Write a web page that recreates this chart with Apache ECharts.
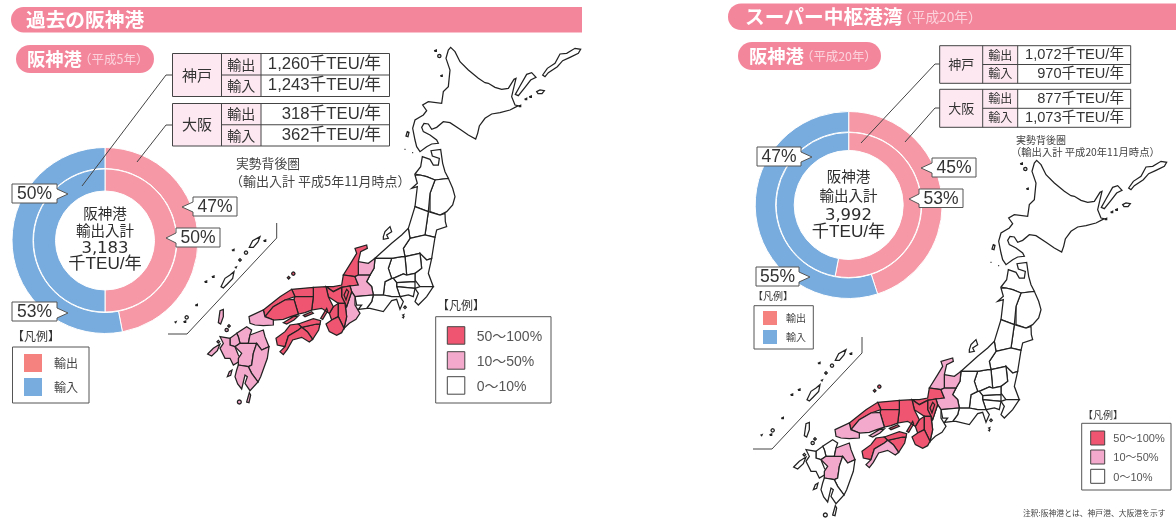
<!DOCTYPE html>
<html>
<head>
<meta charset="utf-8">
<style>
  html, body { margin: 0; padding: 0; background: #fff; }
  #main { width: 1176px; height: 522px; }
</style>
<script src="https://cdn.jsdelivr.net/npm/echarts@6/dist/echarts.min.js"></script>
</head>
<body>
<div id="main"></div>
<script>
// 輸出入シェア (%)
const flowNames = ['輸出', '輸入'];
const outerShareH5 = [47, 53];
const innerShareH5 = [50, 50];
const outerShareH20 = [45, 55];
const innerShareH20 = [53, 47];

// 取扱量 (千TEU/年)
const kobeH5 = ['1,260', '1,243'];
const osakaH5 = ['318', '362'];
const kobeH20 = ['1,072', '970'];
const osakaH20 = ['877', '1,073'];
const totalH5 = '3,183';
const totalH20 = '3,992';

// 実勢背後圏: 0 = 0〜10%, 1 = 10〜50%, 2 = 50〜100%
const prefNames = ['北海道','青森','岩手','宮城','秋田','山形','福島','茨城','栃木','群馬','埼玉','千葉','東京','神奈川','新潟','山梨','長野','富山','石川','福井','岐阜','静岡','愛知','三重','滋賀','京都','大阪','兵庫','奈良','和歌山','鳥取','島根','岡山','広島','山口','徳島','香川','愛媛','高知','福岡','佐賀','長崎','熊本','大分','宮崎','鹿児島','沖縄'];
const levelH5 =  [0,0,0,0,0,0,0,0,0,0,0,0,0,0,0,0,0,1,2,2,1,0,0,1,2,2,2,2,2,2,2,2,2,2,1,2,2,2,2,1,1,1,1,1,1,1,0];
const levelH20 = [0,0,0,0,0,0,0,0,0,0,0,0,0,0,0,0,0,1,1,2,1,0,0,0,2,2,2,2,2,2,2,2,2,1,1,2,2,2,1,0,0,0,1,1,0,0,0];
const levelLabels = ['0〜10%', '10〜50%', '50〜100%'];
const levelColors = ['#ffffff', '#F3A9CB', '#EF5570'];

const exportColor = '#F698A6';
const importColor = '#78ACDE';
const exportKey = '#F6827F';
const font = "'Liberation Sans','Noto Sans CJK JP',sans-serif";
const cjk = "'Noto Sans CJK JP',sans-serif";
const wide = "'DejaVu Sans','Noto Sans CJK JP',sans-serif";

// 白地図の輪郭 (手で起こした概形)
function dot(x, y, r) {
    return [x - r, y, x - r * 0.7, y - r * 0.7, x, y - r, x + r * 0.7, y - r * 0.7, x + r, y, x + r * 0.7, y + r * 0.7, x, y + r, x - r * 0.7, y + r * 0.7];
}
const prefShapes = {
    '北海道': [[842,52,855,65,870,95,895,120,925,145,945,158,955,160,975,172,995,178,1015,175,1032,148,1038,145,1032,170,1025,200,1035,225,1045,227,1020,240,990,248,965,252,945,265,928,288,923,310,917,327,895,315,870,298,840,278,820,275,800,292,785,298,775,282,762,280,755,292,760,305,780,315,800,330,805,340,785,342,770,350,750,365,740,350,735,330,728,295,735,270,760,255,770,242,758,225,775,215,815,220,820,185,835,170,840,120,828,85,835,60],
        [1118,135,1132,115,1155,100,1170,72,1190,70,1215,55,1232,58,1225,70,1200,82,1178,92,1162,110,1135,128,1125,140],
        [1036,193,1050,168,1070,133,1085,128,1098,142,1082,150,1065,172,1045,197],
        [1100,185,1110,180,1123,182,1116,191,1104,191],
        dot(1082,200,3), dot(1068,207,3), dot(797,62,3), dot(808,78,5), dot(815,137,2.5), dot(1050,228,3),
        [708,318,712,305,717,307,714,320], dot(705,358,1.5), dot(728,368,1.5)],
    '青森': [[735,432,752,410,757,380,780,388,790,405,805,405,808,385,787,378,783,362,812,358,818,400,825,425,835,445,795,450,770,440,750,435]],
    '岩手': [[795,450,835,445,848,475,855,500,848,525,830,545,810,555,780,545,780,490]],
    '宮城': [[775,545,810,555,825,550,826,575,830,590,800,600,795,622,765,615]],
    '秋田': [[735,435,750,435,770,440,795,450,780,490,775,545,735,530,742,470,725,475,742,460]],
    '山形': [[715,595,735,530,775,545,765,615,720,625]],
    '福島': [[700,655,720,625,765,615,795,622,785,685,770,690,750,670,705,680]],
    '茨城': [[750,670,770,690,785,685,775,730,790,770,750,770,735,750,735,730,755,715]],
    '栃木': [[705,680,750,670,755,715,735,730,710,735]],
    '群馬': [[665,745,655,715,665,685,695,680,705,680,710,735,700,732,670,745]],
    '埼玉': [[670,745,700,732,710,735,735,730,735,755,680,758]],
    '千葉': [[750,770,790,770,770,800,745,825,735,815,745,790,735,775]],
    '東京': [[680,758,735,755,735,775,680,770], dot(705,832,4), dot(700,855,2), dot(700,862,2)],
    '神奈川': [[680,770,735,775,730,800,715,795,690,800]],
    '新潟': [[615,685,665,640,695,615,715,595,720,625,700,655,705,680,695,680,665,685],
        [640,620,645,605,660,590,665,605,650,615,655,625,640,628]],
    '山梨': [[645,755,665,745,670,745,680,758,680,770,690,800,665,800,640,795]],
    '長野': [[615,685,665,685,655,715,665,745,645,755,640,795,610,795,605,770,590,755,600,735,612,715]],
    '富山': [[565,695,595,700,615,685,612,715,600,735,565,735]],
    '石川': [[520,735,545,695,560,670,555,655,590,645,592,655,572,665,565,695,565,735,555,740]],
    '福井': [[470,770,490,785,515,772,540,768,565,765,555,740,520,735,515,765,490,770]],
    '岐阜': [[565,735,600,735,590,755,605,770,610,795,555,800,545,785,540,768,565,765,555,740]],
    '静岡': [[610,795,640,795,665,800,690,800,700,815,690,838,680,808,665,812,640,845,600,835,590,835,605,815]],
    '愛知': [[555,800,610,795,605,815,590,835,565,838,575,825,560,825]],
    '三重': [[530,830,545,785,555,800,555,825,570,850,558,868,538,880,522,895,530,860,525,820]],
    '滋賀': [[515,772,540,768,545,785,530,830,525,820,515,800],[522,795,530,778,536,785,528,810]],
    '京都': [[468,770,490,785,515,772,515,800,525,820,505,820,490,810,475,800]],
    '大阪': [[490,830,505,820,505,860,485,870,478,850]],
    '兵庫': [[430,772,468,770,475,800,490,830,478,850,455,835,425,840,430,800],[452,865,470,835,473,843,458,868]],
    '奈良': [[505,820,525,820,530,860,522,895,505,860]],
    '和歌山': [[485,870,505,860,522,895,515,908,500,916,478,905,468,882]],
    '鳥取': [[365,778,430,772,430,800,375,800]],
    '島根': [[280,840,330,800,365,778,375,800,345,810,310,830,285,860], dot(370,731,5), dot(356,743,4)],
    '岡山': [[375,800,430,800,425,840,405,848,385,852,372,808], [400,856,425,845,430,850,405,860]],
    '広島': [[285,860,310,830,345,810,372,808,385,852,362,860,340,868,310,870], [340,878,370,860,385,858,372,870,350,882]],
    '山口': [[237,860,280,840,285,860,310,870,310,885,280,887,255,885,240,880]],
    '徳島': [[395,892,440,882,450,882,446,900,428,928,412,905]],
    '香川': [[385,882,430,866,452,872,450,882,440,882,395,892]],
    '愛媛': [[318,925,345,905,360,885,385,882,395,892,385,900,355,918,345,950,322,945]],
    '高知': [[330,965,345,950,355,918,385,900,395,892,412,905,428,928,418,936,395,922,368,930,352,958,340,974]],
    '福岡': [[200,910,230,890,245,900,240,915,235,940,210,940,205,920]],
    '佐賀': [[180,925,200,910,205,920,210,940,195,950,180,945]],
    '長崎': [[150,920,180,925,180,945,195,950,205,975,215,990,190,1005,180,985,165,985,150,955,160,940],
        [113,972,130,955,150,942,142,962,125,978], dot(170,900,5), dot(177,888,4), dot(145,935,4)],
    '熊本': [[210,940,235,940,260,940,250,970,245,1005,235,1010,205,1005,205,985,215,970,195,950]],
    '大分': [[240,915,280,900,285,920,297,950,275,960,260,940,235,940]],
    '宮崎': [[260,940,275,960,297,950,292,985,272,1040,264,1056,245,1030,235,1010,245,1005,250,970]],
    '鹿児島': [[205,1005,235,1010,245,1030,264,1056,240,1082,225,1060,232,1040,225,1035,215,1077,203,1062,195,1040,200,1020],
        [172,1040,178,1025,186,1020,182,1036], [230,1116,238,1088,242,1095,237,1118], dot(208,1116,6),
        [145,878,150,842,160,838,160,860,152,882]],
    '沖縄': [[153,770,165,745,180,735,192,725,188,745,172,762,160,774],
        [238,652,248,632,270,620,264,636,250,652], dot(228,668,5), dot(210,690,4), dot(190,660,3), dot(285,632,3),
        dot(198,712,2), dot(130,740,3), dot(108,755,3), dot(80,825,3), dot(50,862,5), dot(45,875,3), dot(17,876,2)]
};

const jpGeo = {
    type: 'FeatureCollection',
    features: prefNames.map(name => ({
        type: 'Feature',
        properties: { name: name },
        geometry: {
            type: 'MultiPolygon',
            coordinates: prefShapes[name].map(flat => {
                const ring = [];
                for (let i = 0; i < flat.length; i += 2) ring.push([flat[i], flat[i + 1]]);
                ring.push(ring[0].slice());
                return [ring];
            })
        }
    }))
};
echarts.registerMap('jpH5', jpGeo);
echarts.registerMap('jpH20', jpGeo);

function mapSeries(mapName, levels, left, top) {
    return {
        type: 'map',
        map: mapName,
        projection: { project: p => p, unproject: p => p },
        boundingCoords: [[0, 0], [1200, 1170]],
        left: left, top: top, width: 400, height: 390,
        silent: true,
        label: { show: false },
        emphasis: { disabled: true },
        select: { disabled: true },
        itemStyle: { borderColor: '#222', borderWidth: 1.25, areaColor: '#fff' },
        data: prefNames.map((name, i) => ({
            name: name,
            value: levels[i],
            itemStyle: { areaColor: levelColors[levels[i]] }
        }))
    };
}

function pieSeries(values, center, radius) {
    return {
        type: 'pie',
        center: center,
        radius: radius,
        startAngle: 90,
        silent: true,
        animation: false,
        label: { show: false },
        labelLine: { show: false },
        itemStyle: { borderColor: '#fff', borderWidth: 1 },
        data: values.map((v, i) => ({
            name: flowNames[i],
            value: v,
            itemStyle: { color: i === 0 ? exportColor : importColor }
        }))
    };
}

// 注記類
const g = [];
function txt(x, y, text, size, opt) {
    g.push({
        type: 'text', x: x, y: y, silent: true, z: 20,
        style: Object.assign({
            text: text, font: size + 'px ' + font, fill: '#333',
            align: 'left', verticalAlign: 'middle'
        }, opt || {})
    });
}
function box(x, y, w, h, fill, stroke, lw, z) {
    g.push({
        type: 'rect', silent: true, z: z || 10,
        shape: { x: x, y: y, width: w, height: h },
        style: { fill: fill, stroke: stroke || null, lineWidth: lw === undefined ? 1 : lw }
    });
}
function line(points, color) {
    g.push({
        type: 'polyline', silent: true, z: 8,
        shape: { points: points },
        style: { stroke: color || '#444', lineWidth: 1, fill: null }
    });
}
function banner(x, y, w, h, radius, fill) {
    g.push({
        type: 'rect', silent: true, z: 5,
        shape: { x: x, y: y, width: w, height: h, r: radius },
        style: { fill: fill }
    });
}
function callout(x, y, w, h, tipX, tipY, value) {
    const left = tipX < x;
    const e = left ? x : x + w;
    const o = left ? x + w : x;
    g.push({
        type: 'polygon', silent: true, z: 15,
        shape: { points: [[o, y], [e, y], [e, tipY - 5], [tipX, tipY], [e, tipY + 5], [e, y + h], [o, y + h]] },
        style: { fill: '#fff', stroke: '#555', lineWidth: 1 }
    });
    txt(x + w / 2, y + h / 2 + 0.5, value + '%', 17.5, { align: 'center', fill: '#333' });
}
function portTable(x, y, w, h, col1, col2, name, vals, size, valRight, size1) {
    const mid = y + h / 2;
    box(x, y, col1 - x, h, '#FDE8F1', null, 0, 9);
    box(col1, y, col2 - col1, h, '#FDE8F1', null, 0, 9);
    box(x, y, w, h, 'transparent', '#444', 1, 11);
    line([[col1, y], [col1, y + h]]); g[g.length - 1].z = 12;
    line([[col2, y], [col2, y + h]]); g[g.length - 1].z = 12;
    line([[col1, mid], [x + w, mid]]); g[g.length - 1].z = 12;
    txt((x + col1) / 2, mid, name, size1, { align: 'center', font: size1 + 'px ' + cjk });
    flowNames.forEach((f, i) => {
        const cy = y + h * (i * 2 + 1) / 4;
        txt((col1 + col2) / 2, cy, f, size1 - 1, { align: 'center', font: (size1 - 1) + 'px ' + cjk });
        txt(valRight, cy, vals[i] + '千TEU/年', size, { align: 'right' });
    });
}
function centerText(cx, ys, total) {
    txt(cx, ys[0] - 1, '阪神港', 14.5, { align: 'center', fill: '#2d2d2d', font: '14.5px ' + cjk });
    txt(cx, ys[1] - 1, '輸出入計', 14.5, { align: 'center', fill: '#2d2d2d', font: '14.5px ' + cjk });
    txt(cx, ys[2] + 1.5, total, 16.5, { align: 'center', fill: '#2d2d2d', font: '16.5px ' + wide });
    txt(cx, ys[3], '千TEU/年', 17.2, { align: 'center', fill: '#2d2d2d' });
}
function pieKey(x, y, w, h, sw, rows, size, tx, hx, hy) {
    txt(hx, hy, '【凡例】', size, { font: size + 'px ' + cjk });
    box(x, y, w, h, '#fff', '#555', 1);
    [exportKey, importColor].forEach((c, i) => {
        box(rows[0], rows[1 + i], sw, sw, c, null, 0, 12);
        txt(tx, rows[1 + i] + sw / 2, flowNames[i], size, { font: size + 'px ' + cjk, fill: '#444' });
    });
}
function mapKey(x, y, w, h, sw, sx, rows, tx, tys, size, hx, hy, hsize) {
    txt(hx, hy, '【凡例】', hsize, { font: hsize + 'px ' + cjk });
    box(x, y, w, h, '#fff', '#555', 1);
    [2, 1, 0].forEach((lv, i) => {
        box(sx, rows[i], sw, sw, levelColors[lv], '#444', 1, 12);
        txt(tx, tys[i], levelLabels[lv], size, { fill: '#555' });
    });
}

// 左パネル
banner(11, 7, 571, 25.5, [12.5, 0, 0, 12.5], '#F4869C');
txt(26, 20, '過去の阪神港', 19.7, { fill: '#fff', font: 'bold 19.7px ' + cjk });
banner(16, 45, 138, 28, 14, '#F4869C');
txt(27, 59, '阪神港', 18.3, { fill: '#fff', font: 'bold 18.3px ' + cjk });
txt(79, 59, '（平成5年）', 12.5, { fill: '#FBD3DC', font: '12.5px ' + cjk });
portTable(172.5, 53.5, 217, 43, 221.5, 261, '神戸', kobeH5, 16.7, 381, 15);
portTable(172.5, 103.5, 217, 42.5, 221.5, 261, '大阪', osakaH5, 16.7, 381, 15);
line([[82, 186], [166, 75], [172, 75]]);
line([[137, 162], [166, 125], [172, 125]]);
txt(236, 163, '実勢背後圏', 12.8, { font: '12.8px ' + cjk, fill: '#444' });
txt(230, 181, '（輸出入計 平成5年11月時点）', 13, { font: '13px ' + cjk, fill: '#444' });
callout(193, 197, 44, 19, 182, 207, outerShareH5[0]);
callout(176, 228, 44, 19, 166, 238, innerShareH5[0]);
callout(12, 184, 45, 19, 68, 194, innerShareH5[1]);
callout(12, 302, 45, 19, 68, 313, outerShareH5[1]);
centerText(105, [214, 231, 247, 264], totalH5);
pieKey(12.5, 347, 76.5, 56, 18, [24, 354, 378], 12, 54, 12, 336);
mapKey(435.7, 316.7, 115.3, 86.3, 17.5, 447.3, [326.7, 351.7, 376.7], 476.7, [336.7, 362, 387], 14, 437, 305, 12);
line([[276.7, 223], [276.7, 238], [187, 334], [168, 334]]);

// 右パネル
banner(728, 3.5, 448, 26.5, [13, 0, 0, 13], '#F4869C');
txt(745, 17, 'スーパー中枢港湾', 19.7, { fill: '#fff', font: 'bold 19.7px ' + cjk });
txt(898, 17, '（平成20年）', 13.7, { fill: '#FBD3DC', font: '13.7px ' + cjk });
banner(738, 42, 143, 28, 14, '#F4869C');
txt(749, 56, '阪神港', 18.3, { fill: '#fff', font: 'bold 18.3px ' + cjk });
txt(801, 56, '（平成20年）', 12.4, { fill: '#FBD3DC', font: '12.4px ' + cjk });
portTable(939.7, 45.7, 191, 37.6, 982.7, 1017.7, '神戸', kobeH20, 14.6, 1124, 13);
portTable(939.7, 89.3, 191, 38, 982.7, 1017.7, '大阪', osakaH20, 14.6, 1124, 13);
line([[861, 143], [935, 64], [940, 64]]);
line([[905, 142], [935, 108], [940, 108]]);
txt(1016, 140, '実勢背後圏', 10, { font: '10px ' + cjk, fill: '#444' });
txt(1011, 152, '（輸出入計 平成20年11月時点）', 10.3, { font: '10.3px ' + cjk, fill: '#444' });
callout(932, 158, 44, 19, 921, 168, outerShareH20[0]);
callout(919, 189, 44, 18.5, 909, 199, innerShareH20[0]);
callout(757, 147, 44, 19, 812, 157, innerShareH20[1]);
callout(756, 267, 43, 19, 810, 277, outerShareH20[1]);
centerText(848.5, [177, 196, 214, 232], totalH20);
pieKey(754, 305.7, 59.3, 43.3, 14, [763, 311, 330], 10, 786, 753, 296);
mapKey(1081.7, 423.3, 89.3, 66.7, 14, 1090.7, [431, 450, 469.3], 1113.3, [439, 458.3, 478.3], 11, 1083, 415, 10);
line([[862, 337], [862, 353], [772, 449], [753, 449]]);
txt(1023, 513, '注釈:阪神港とは、神戸港、大阪港を示す', 7.8, { font: '7.8px ' + cjk, fill: '#444' });

const chart = echarts.init(document.getElementById('main'));
chart.setOption({
    animation: false,
    backgroundColor: '#fff',
    series: [
        pieSeries(outerShareH5, [105, 240.5], [72, 93]),
        pieSeries(innerShareH5, [105, 240.5], [49.5, 71.5]),
        pieSeries(outerShareH20, [848.7, 205], [73, 93.5]),
        pieSeries(innerShareH20, [848.7, 205], [54.5, 72.5]),
        mapSeries('jpH5', levelH5, 170, 30),
        mapSeries('jpH20', levelH20, 756, 143)
    ],
    graphic: { elements: g }
});
</script>
</body>
</html>
